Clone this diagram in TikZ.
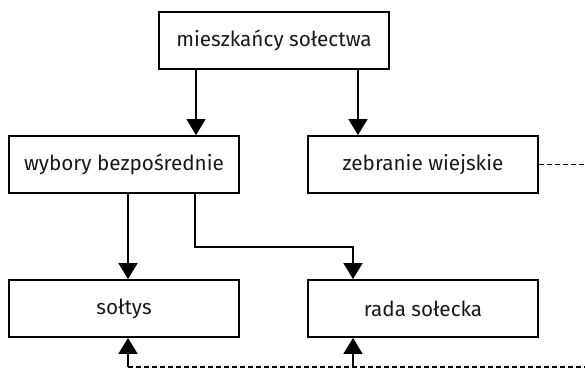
\documentclass[tikz,border=0pt]{standalone}
\usepackage{fontspec}
\setmainfont{Fira Sans}
\usetikzlibrary{arrows.meta}

\tikzset{
  box/.style={draw, line width=1.9pt, minimum width=230pt, minimum height=57pt,
    inner sep=0pt, text=black!90, font=\fontsize{20.7}{24}\selectfont},
  arr/.style={-{Triangle[length=16pt,width=19pt]}, line width=1.9pt},
  przerywana/.style={line width=1.3pt, dash pattern=on 5pt off 3pt}
}

\begin{document}
\begin{tikzpicture}[x=1pt, y=-1pt]
    \useasboundingbox (0,0) rectangle (585,370);
    % Riquadri
    \node[box] (miesz) at (274,40.5) {mieszkańcy sołectwa};
    \node[box] (wybory) at (124,164.5) {wybory bezpośrednie};
    \node[box] (zebr) at (423,164.5) {zebranie wiejskie};
    \node[box] (soltys) at (124,308.5) {sołtys};
    \node[box] (rada) at (423,308.5) {rada sołecka};

    % estremi liberi sul bordo destro
    \coordinate (zebrKoniec) at (585,164.5);
    \coordinate (dolKoniec) at (585,367);

    % Frecce piene
    \draw[arr] ([xshift=-78pt]miesz.south) -- ([xshift=-78pt]miesz.south |- wybory.north);
    \draw[arr] ([xshift=84pt]miesz.south) -- ([xshift=84pt]miesz.south |- zebr.north);
    \draw[arr] ([xshift=4pt]wybory.south) -- ([xshift=4pt]soltys.north);
    \draw[arr] ([xshift=71pt]wybory.south) -- ++(0,53) -| ([xshift=-70pt]rada.north);

    % Linee tratteggiate
    \draw[przerywana] (zebr.east) -- (zebrKoniec);
    \draw[przerywana] ([xshift=4pt]soltys.south |- dolKoniec) -- (dolKoniec);
    \draw[arr] ([xshift=4pt]soltys.south |- dolKoniec) -- ([xshift=4pt]soltys.south);
    \draw[arr] ([xshift=-70pt]rada.south |- dolKoniec) -- ([xshift=-70pt]rada.south);
\end{tikzpicture}
\end{document}
